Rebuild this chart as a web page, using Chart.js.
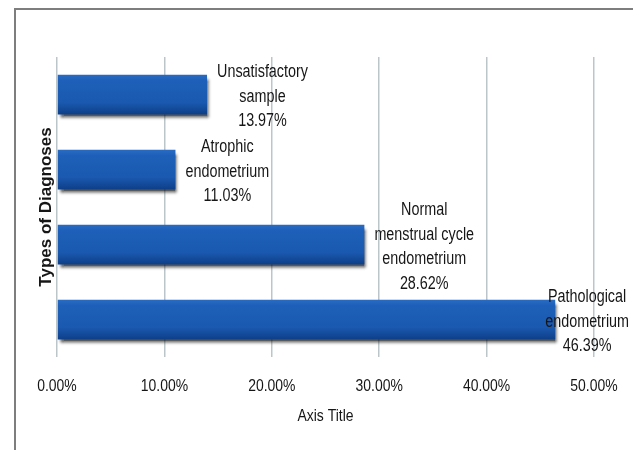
<!DOCTYPE html>
<html>
<head>
<meta charset="utf-8">
<title>Types of Diagnoses</title>
<script src="https://cdn.jsdelivr.net/npm/chart.js@4.4.1/dist/chart.umd.min.js"></script>
<style>
    html, body { margin: 0; padding: 0; background: #fff; }
    #wrap { position: relative; width: 633px; height: 450px; overflow: hidden; }
    #frame {
        position: absolute; left: 14px; top: 8px; right: 0; bottom: 0;
        border-left: 2px solid #7e7e7e; border-top: 2px solid #7e7e7e;
    }
    #graph { position: absolute; left: 0; top: 0; }
</style>
</head>
<body>
<div id="wrap">
    <div id="frame"></div>
    <canvas id="graph" width="633" height="450"></canvas>
</div>
<script>
// Data (top bar first)
const categories = [
    ['Unsatisfactory', 'sample'],
    ['Atrophic', 'endometrium'],
    ['Normal', 'menstrual cycle', 'endometrium'],
    ['Pathological', 'endometrium']
];
const percentages = [13.97, 11.03, 28.62, 46.39];
const xTicks = [0, 10, 20, 30, 40, 50];
const xTitle = 'Axis Title';

// No narrow font installed: Liberation Sans squeezed horizontally ~ Arial Narrow
const NARROW_SCALE = 0.82;
const TEXT_COLOR = '#161616';

function narrowText(ctx, text, x, y, size) {
    ctx.save();
    ctx.font = size + "px 'Liberation Sans', sans-serif";
    ctx.fillStyle = TEXT_COLOR;
    ctx.textAlign = 'center';
    ctx.textBaseline = 'alphabetic';
    ctx.translate(x, y);
    ctx.scale(NARROW_SCALE, 1);
    ctx.fillText(text, 0, 0);
    ctx.restore();
}

function narrowWidth(ctx, text, size) {
    ctx.save();
    ctx.font = size + "px 'Liberation Sans', sans-serif";
    const w = ctx.measureText(text).width * NARROW_SCALE;
    ctx.restore();
    return w;
}

// Vertical gradient + drop shadow on each bar (Excel-like bevel look)
const barStyle = {
    id: 'barStyle',
    beforeDatasetDraw(chart, args) {
        const ctx = chart.ctx;
        args.meta.data.forEach(bar => {
            const { y, height } = bar.getProps(['y', 'height'], true);
            const g = ctx.createLinearGradient(0, y - height / 2, 0, y + height / 2);
            g.addColorStop(0, '#2a6cc4');
            g.addColorStop(0.15, '#1e60b9');
            g.addColorStop(0.7, '#1a59af');
            g.addColorStop(1, '#0e3f88');
            bar.options.backgroundColor = g;
        });
        ctx.save();
        ctx.shadowColor = 'rgba(0, 0, 0, 0.65)';
        ctx.shadowOffsetX = 2;
        ctx.shadowOffsetY = 4;
        ctx.shadowBlur = 3;
    },
    afterDatasetDraw(chart) {
        chart.ctx.restore();
    }
};

// Narrow text: x tick labels, x title, and the multi-line bar labels
const narrowLabels = {
    id: 'narrowLabels',
    afterDraw(chart) {
        const ctx = chart.ctx;
        const xs = chart.scales.x;
        const area = chart.chartArea;

        // tick labels, placed by the x scale
        xs.ticks.forEach(t => {
            narrowText(ctx, t.value.toFixed(2) + '%', xs.getPixelForValue(t.value), area.bottom + 34, 17);
        });
        narrowText(ctx, xTitle, (area.left + area.right) / 2, area.bottom + 64, 17);

        // bar labels, right of each bar end
        const size = 17.5;
        const lineH = 24.5;
        const capHalf = 0.358 * size;
        chart.getDatasetMeta(0).data.forEach((bar, i) => {
            const lines = [...categories[i], percentages[i].toFixed(2) + '%'];
            const w = Math.max(...lines.map(l => narrowWidth(ctx, l, size)));
            let cx = bar.x + 10 + w / 2;
            // keep inside the canvas (pushes the last label over its bar end)
            if (cx + w / 2 > chart.width - 4) cx = chart.width - 4 - w / 2;
            const y0 = bar.y + 1 - (lines.length - 1) * lineH / 2;
            lines.forEach((l, k) => narrowText(ctx, l, cx, y0 + k * lineH + capHalf, size));
        });
    }
};

new Chart(document.getElementById('graph'), {
    type: 'bar',
    data: {
        labels: categories,
        datasets: [{
            data: percentages,
            // scriptable so every bar gets its own options object (own gradient)
            backgroundColor: () => '#1a5cb3',
            borderWidth: 0,
            barPercentage: 0.53,
            categoryPercentage: 1
        }]
    },
    options: {
        indexAxis: 'y',
        responsive: false,
        animation: false,
        layout: { padding: { top: 57, right: 39, left: 0, bottom: 0 } },
        plugins: {
            legend: { display: false },
            tooltip: { enabled: false }
        },
        scales: {
            x: {
                min: xTicks[0],
                max: xTicks[xTicks.length - 1],
                afterBuildTicks: scale => { scale.ticks = xTicks.map(v => ({ value: v })); },
                afterFit: scale => { scale.height = 93; },
                grid: { color: '#bcc6ca', lineWidth: 1.5, drawTicks: false },
                border: { display: false },
                ticks: { display: false }
            },
            y: {
                afterFit: scale => { scale.width = 57; },
                grid: { display: false },
                border: { display: false },
                ticks: { display: false },
                title: {
                    display: true,
                    text: 'Types of Diagnoses',
                    color: TEXT_COLOR,
                    font: { family: "'Liberation Sans', sans-serif", size: 17, weight: 'bold' },
                    padding: { top: 36, bottom: 0 }
                }
            }
        }
    },
    plugins: [barStyle, narrowLabels]
});
</script>
</body>
</html>
